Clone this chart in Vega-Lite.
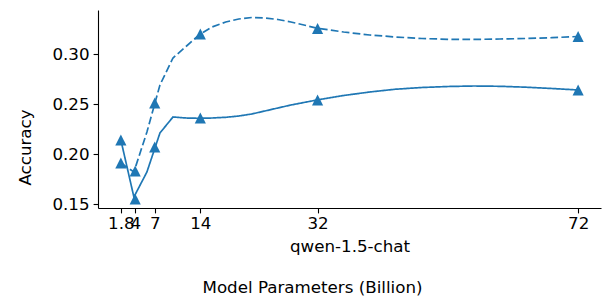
{
  "$schema": "https://vega.github.io/schema/vega-lite/v6.json",
  "width": 503,
  "height": 198,
  "autosize": {"type": "none"},
  "padding": {"left": 98, "top": 10, "right": 10, "bottom": 89},
  "background": "white",
  "config": {
    "font": "DejaVu Sans",
    "view": {"stroke": null},
    "axis": {
      "grid": false,
      "domainColor": "black",
      "domainWidth": 1.1,
      "tickColor": "black",
      "tickWidth": 1.1,
      "tickSize": 4.9,
      "labelFont": "DejaVu Sans",
      "labelFontSize": 16.7,
      "labelColor": "black",
      "titleFont": "DejaVu Sans",
      "titleFontSize": 16.7,
      "titleFontWeight": "normal",
      "titleColor": "black"
    }
  },
  "title": {
    "text": "Model Parameters (Billion)",
    "orient": "bottom",
    "anchor": "middle",
    "frame": "group",
    "dx": -37,
    "offset": 25,
    "font": "DejaVu Sans",
    "fontSize": 16.7,
    "fontWeight": "normal",
    "color": "black"
  },
  "datasets": {
    "markers": [
      {"params": 1.8, "acc": 0.214, "series": "solid"},
      {"params": 4, "acc": 0.155, "series": "solid"},
      {"params": 7, "acc": 0.207, "series": "solid"},
      {"params": 14, "acc": 0.236, "series": "solid"},
      {"params": 32, "acc": 0.254, "series": "solid"},
      {"params": 72, "acc": 0.264, "series": "solid"},
      {"params": 1.8, "acc": 0.191, "series": "dashed"},
      {"params": 4, "acc": 0.183, "series": "dashed"},
      {"params": 7, "acc": 0.251, "series": "dashed"},
      {"params": 14, "acc": 0.320, "series": "dashed"},
      {"params": 32, "acc": 0.3255, "series": "dashed"},
      {"params": 72, "acc": 0.3175, "series": "dashed"}
    ],
    "curve": [
      {"params": 1.8, "acc": 0.214, "series": "solid"},
      {"params": 3.8, "acc": 0.157, "series": "solid"},
      {"params": 5.8, "acc": 0.182, "series": "solid"},
      {"params": 7.8, "acc": 0.221, "series": "solid"},
      {"params": 9.8, "acc": 0.237, "series": "solid"},
      {"params": 11.8, "acc": 0.236, "series": "solid"},
      {"params": 13.8, "acc": 0.2357, "series": "solid"},
      {"params": 15.8, "acc": 0.236, "series": "solid"},
      {"params": 17.9, "acc": 0.2367, "series": "solid"},
      {"params": 19.9, "acc": 0.238, "series": "solid"},
      {"params": 21.9, "acc": 0.240, "series": "solid"},
      {"params": 23.9, "acc": 0.243, "series": "solid"},
      {"params": 25.9, "acc": 0.246, "series": "solid"},
      {"params": 27.9, "acc": 0.249, "series": "solid"},
      {"params": 29.9, "acc": 0.2515, "series": "solid"},
      {"params": 31.9, "acc": 0.254, "series": "solid"},
      {"params": 36, "acc": 0.2585, "series": "solid"},
      {"params": 40, "acc": 0.262, "series": "solid"},
      {"params": 44, "acc": 0.2648, "series": "solid"},
      {"params": 48, "acc": 0.2665, "series": "solid"},
      {"params": 52, "acc": 0.2675, "series": "solid"},
      {"params": 56, "acc": 0.268, "series": "solid"},
      {"params": 60, "acc": 0.2677, "series": "solid"},
      {"params": 64, "acc": 0.2668, "series": "solid"},
      {"params": 68, "acc": 0.2655, "series": "solid"},
      {"params": 72, "acc": 0.264, "series": "solid"},
      {"params": 1.8, "acc": 0.191, "series": "dashed"},
      {"params": 3.8, "acc": 0.182, "series": "dashed"},
      {"params": 5.8, "acc": 0.222, "series": "dashed"},
      {"params": 7.8, "acc": 0.269, "series": "dashed"},
      {"params": 9.8, "acc": 0.296, "series": "dashed"},
      {"params": 11.8, "acc": 0.3075, "series": "dashed"},
      {"params": 13.8, "acc": 0.319, "series": "dashed"},
      {"params": 15.8, "acc": 0.327, "series": "dashed"},
      {"params": 17.9, "acc": 0.332, "series": "dashed"},
      {"params": 19.9, "acc": 0.335, "series": "dashed"},
      {"params": 21.9, "acc": 0.3365, "series": "dashed"},
      {"params": 23.9, "acc": 0.336, "series": "dashed"},
      {"params": 25.9, "acc": 0.3345, "series": "dashed"},
      {"params": 27.9, "acc": 0.332, "series": "dashed"},
      {"params": 29.9, "acc": 0.329, "series": "dashed"},
      {"params": 31.9, "acc": 0.3258, "series": "dashed"},
      {"params": 36, "acc": 0.322, "series": "dashed"},
      {"params": 40, "acc": 0.319, "series": "dashed"},
      {"params": 44, "acc": 0.317, "series": "dashed"},
      {"params": 48, "acc": 0.3155, "series": "dashed"},
      {"params": 52, "acc": 0.3147, "series": "dashed"},
      {"params": 56, "acc": 0.3146, "series": "dashed"},
      {"params": 60, "acc": 0.315, "series": "dashed"},
      {"params": 64, "acc": 0.3155, "series": "dashed"},
      {"params": 68, "acc": 0.3163, "series": "dashed"},
      {"params": 72, "acc": 0.3175, "series": "dashed"}
    ]
  },
  "encoding": {
    "x": {
      "field": "params",
      "type": "quantitative",
      "scale": {"domain": [-1.71, 75.51], "nice": false, "zero": false},
      "axis": {
        "title": "qwen-1.5-chat",
        "values": [1.8, 4, 7, 14, 32, 72],
        "labelOverlap": false,
        "labelFlush": false,
        "labelPadding": 3,
        "titlePadding": 6,
        "labelExpr": "datum.value == 1.8 ? '1.8' : format(datum.value, 'd')"
      }
    },
    "y": {
      "field": "acc",
      "type": "quantitative",
      "scale": {"domain": [0.146, 0.344], "nice": false, "zero": false},
      "axis": {
        "title": "Accuracy",
        "values": [0.15, 0.2, 0.25, 0.3],
        "format": ".2f",
        "labelPadding": 4,
        "titleX": -73,
        "titleY": 137,
        "titleAngle": -90,
        "titleAlign": "center",
        "titleBaseline": "middle"
      }
    }
  },
  "layer": [
    {
      "data": {"name": "curve"},
      "mark": {"type": "line", "interpolate": "linear", "strokeWidth": 1.7, "color": "#1f77b4"},
      "encoding": {
        "detail": {"field": "series"},
        "strokeDash": {
          "field": "series",
          "type": "nominal",
          "scale": {"domain": ["solid", "dashed"], "range": [[1, 0], [7.7, 3.3]]},
          "legend": null
        }
      }
    },
    {
      "data": {"name": "markers"},
      "mark": {"type": "point", "shape": "M0,-1L-1,1L1,1Z", "filled": true, "size": 125, "color": "#1f77b4", "opacity": 1}
    }
  ]
}
